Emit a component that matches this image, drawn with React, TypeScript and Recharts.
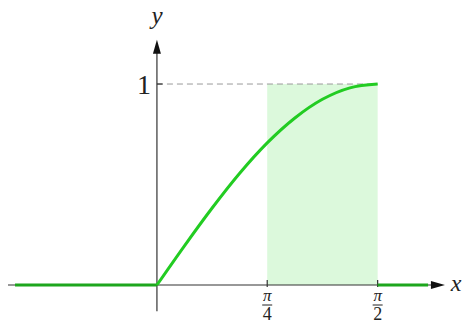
import { LineChart, Line, XAxis, YAxis, ReferenceLine, ReferenceArea, ReferenceDot } from 'recharts'

// curve: rises from the origin to 1 at pi/2
const curveX = [0, 0.196, 0.393, 0.589, 0.785, 0.982, 1.178, 1.374, 1.571]
const curveY = [0, 0.195, 0.383, 0.556, 0.707, 0.831, 0.924, 0.981, 1]

// flat parts lying on the x axis: [fromX, toX] at y = 0
const leftFlat = [-1.01, 0]
const rightFlat = [1.571, 1.93]

const shadeFrom = 0.785
const shadeTo = 1.571

const tickLabels = [
  { x: 0.785, num: 'π', den: '4' },
  { x: 1.571, num: 'π', den: '2' },
]

const curve = curveX.map((x, i) => ({ x, y: curveY[i] }))

const GREEN = '#22cc22'
const FLAT_GREEN = '#1da61d'
const AXIS = '#333'
const SERIF = "'Liberation Serif', 'Times New Roman', 'DejaVu Serif', serif"

function ArrowRight(p: any) {
  const { cx, cy } = p
  return <polygon points={`${cx},${cy} ${cx - 14},${cy - 4} ${cx - 14},${cy + 4}`} fill="#111" />
}

function ArrowUp(p: any) {
  const { cx, cy } = p
  return <polygon points={`${cx},${cy} ${cx - 4},${cy + 14} ${cx + 4},${cy + 14}`} fill="#111" />
}

function FracLabel(p: any, num: string, den: string) {
  const { cx, cy } = p
  return (
    <g>
      <text x={cx} y={cy + 16} textAnchor="middle" fill="#222" fontFamily={SERIF} fontSize={17} fontStyle="italic">{num}</text>
      <line x1={cx - 5} x2={cx + 5} y1={cy + 20} y2={cy + 20} stroke="#222" strokeWidth={1} />
      <text x={cx} y={cy + 35} textAnchor="middle" fill="#222" fontFamily={SERIF} fontSize={18}>{den}</text>
    </g>
  )
}

function TextAt(p: any, txt: string, dx: number, dy: number, italic: boolean, anchor: string, size: number) {
  const { cx, cy } = p
  return (
    <text x={cx + dx} y={cy + dy} textAnchor={anchor as any} fill="#222" fontFamily={SERIF}
      fontSize={size} fontStyle={italic ? 'italic' : 'normal'}>{txt}</text>
  )
}

export default function App() {
  return (
    <div style={{ position: 'fixed', left: 0, top: 0, background: '#fff' }}>
      <LineChart width={467} height={323} margin={{ top: 0, right: 0, bottom: 0, left: 0 }}>
        <XAxis type="number" dataKey="x" domain={[-1.117, 2.207]} hide allowDataOverflow />
        <YAxis type="number" dataKey="y" domain={[-0.189, 1.418]} hide allowDataOverflow />

        <ReferenceArea x1={shadeFrom} x2={shadeTo} y1={0} y2={1} fill="#dcf9dc" fillOpacity={1} stroke="none" />

        <ReferenceLine segment={[{ x: 0, y: 1 }, { x: shadeTo, y: 1 }]} stroke="#999" strokeDasharray="6 4" strokeWidth={1} />

        <ReferenceLine segment={[{ x: -1.06, y: 0 }, { x: 2.0, y: 0 }]} stroke={AXIS} strokeWidth={1.2} />
        <ReferenceLine segment={[{ x: 0, y: -0.13 }, { x: 0, y: 1.16 }]} stroke={AXIS} strokeWidth={1.2} />
        <ReferenceLine segment={[{ x: 0, y: 1 }, { x: 0.04, y: 1 }]} stroke={AXIS} strokeWidth={1.2} />
        {tickLabels.map(t => (
          <ReferenceLine key={t.den} segment={[{ x: t.x, y: -0.01 }, { x: t.x, y: 0.025 }]} stroke={AXIS} strokeWidth={1.2} />
        ))}

        <ReferenceLine segment={[{ x: leftFlat[0], y: 0 }, { x: leftFlat[1], y: 0 }]} stroke={FLAT_GREEN} strokeWidth={3} />
        <ReferenceLine segment={[{ x: rightFlat[0], y: 0 }, { x: rightFlat[1], y: 0 }]} stroke={FLAT_GREEN} strokeWidth={3} />

        <ReferenceDot x={2.05} y={0} r={0} shape={ArrowRight} />
        <ReferenceDot x={0} y={1.22} r={0} shape={ArrowUp} />

        {tickLabels.map(t => (
          <ReferenceDot key={'l' + t.den} x={t.x} y={0} r={0} shape={(p: any) => FracLabel(p, t.num, t.den)} />
        ))}
        <ReferenceDot x={0} y={1} r={0} shape={(p: any) => TextAt(p, '1', -6, 10, false, 'end', 28)} />
        <ReferenceDot x={0} y={1.33} r={0} shape={(p: any) => TextAt(p, 'y', 0, 6, true, 'middle', 25)} />
        <ReferenceDot x={2.17} y={0} r={0} shape={(p: any) => TextAt(p, 'x', -11, 6, true, 'start', 24)} />

        <Line data={curve} dataKey="y" type="monotone" stroke={GREEN} strokeWidth={3} dot={false} activeDot={false} isAnimationActive={false} />
      </LineChart>
    </div>
  )
}
